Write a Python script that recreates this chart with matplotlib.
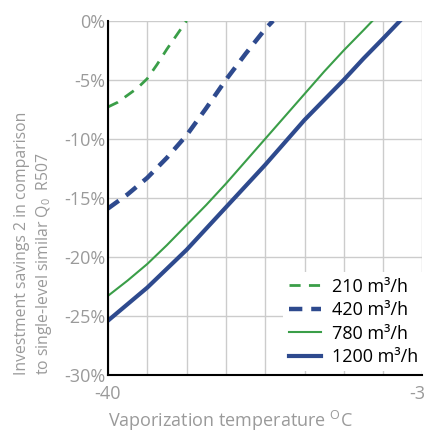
import matplotlib
matplotlib.use('Agg')
import matplotlib.pyplot as plt
from matplotlib.ticker import FixedLocator

plt.rcParams['font.family'] = ['Open Sans', 'DejaVu Sans']
plt.rcParams['mathtext.fontset'] = 'custom'
plt.rcParams['mathtext.rm'] = 'Open Sans'
plt.rcParams['mathtext.it'] = 'Open Sans'
plt.rcParams['axes.unicode_minus'] = False

# data (temperature in degC, savings in %)
x210 = [-40, -39.75, -39.5, -39.25, -39, -38.75, -38.5, -38.25, -38]
y210 = [-7.3, -6.9, -6.3, -5.7, -4.9, -3.7, -2.4, -1.2, 0.0]

x420 = [-40, -39.5, -39, -38.5, -38, -37.5, -37, -36.5, -36, -35.8]
y420 = [-15.9, -14.7, -13.3, -11.6, -9.7, -7.4, -5.0, -2.8, -0.7, 0.0]

x780 = [-40, -39.5, -39, -38.5, -38, -37.5, -37, -36.5, -36, -35.5, -35, -34.5, -34, -33.5, -33.27]
y780 = [-23.3, -22.0, -20.6, -19.0, -17.3, -15.6, -13.8, -11.9, -10.0, -8.1, -6.2, -4.3, -2.5, -0.8, 0.0]

x1200 = [-40, -39.5, -39, -38.5, -38, -37.5, -37, -36.5, -36, -35.5, -35, -34.5, -34, -33.5, -33, -32.57]
y1200 = [-25.4, -24.0, -22.6, -21.0, -19.4, -17.6, -15.8, -14.0, -12.2, -10.3, -8.4, -6.7, -5.0, -3.2, -1.5, 0.0]

labels = ['210 m³/h', '420 m³/h', '780 m³/h', '1200 m³/h']
yticks = [0, -5, -10, -15, -20, -25, -30]

green = '#3a9e48'
blue = '#2e4a8e'
gray = '#9a9a9a'

fig = plt.figure(figsize=(4.25, 4.33), dpi=100)
ax = fig.add_axes([0.254, 0.134, 0.74, 0.818])

ax.plot(x210, y210, color=green, lw=2.0, dashes=(4, 3), label=labels[0])
ax.plot(x420, y420, color=blue, lw=3.2, dashes=(3, 2), label=labels[1])
ax.plot(x780, y780, color=green, lw=1.5, label=labels[2])
ax.plot(x1200, y1200, color=blue, lw=3.0, label=labels[3])

ax.set_xlim(-40, -32)
ax.set_ylim(-30, 0)
ax.xaxis.set_minor_locator(FixedLocator(range(-39, -32)))
ax.set_xticks([-40, -32])
ax.set_yticks(yticks)
ax.set_yticklabels(['%d%%' % v for v in yticks])
ax.grid(True, which='both', color='#cccccc', lw=1.0)
ax.set_axisbelow(True)
ax.tick_params(axis='both', which='both', length=0, labelsize=13, labelcolor=gray)
ax.tick_params(axis='x', pad=7)
ax.tick_params(axis='y', pad=2)

for s in ['top', 'right']:
    ax.spines[s].set_visible(False)
ax.spines['left'].set_linewidth(1.5)
ax.spines['bottom'].set_linewidth(1.5)

ax.set_xlabel(r'Vaporization temperature $^{\mathrm{O}}$C', fontsize=13, color=gray, ha='left')
ax.xaxis.set_label_coords(0.0, -0.095)
ax.set_ylabel('Investment savings 2 in comparison\nto single-level similar Q$_0$  R507', fontsize=11.3,
              color=gray, linespacing=1.35, ha='left', multialignment='left')
ax.yaxis.set_label_coords(-0.17, 0.0)

leg = ax.legend(loc='lower right', bbox_to_anchor=(1.015, 0), fontsize=13, frameon=True, fancybox=False,
                framealpha=1, edgecolor='none', handlelength=1.8, labelspacing=0.3,
                borderaxespad=0.2, handletextpad=0.6, borderpad=0.3)

fig.savefig('out.png', dpi=100)
